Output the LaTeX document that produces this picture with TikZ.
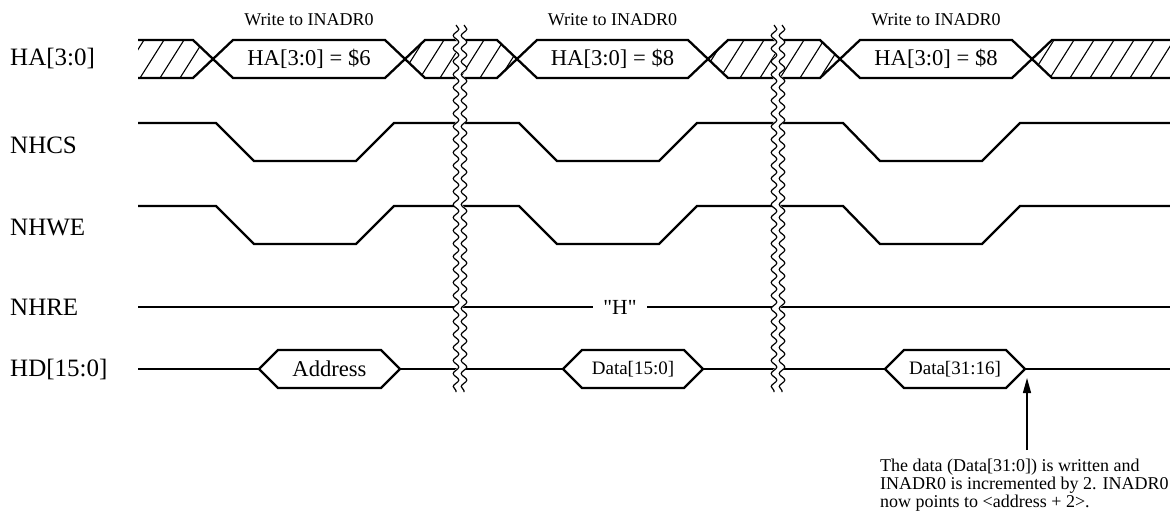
\documentclass[tikz,border=0pt]{standalone}
\usepackage{fontspec}
\setmainfont{Liberation Serif}
\usetikzlibrary{arrows.meta,decorations.pathmorphing}

\tikzset{
  wave/.style={line width=2.3pt, line join=miter},
  hatch/.style={line width=1.1pt},
  brk/.style={decorate, decoration={snake, segment length=13pt, amplitude=2.8pt}},
  siglabel/.style={anchor=west, inner sep=0pt, font=\fontsize{25}{30}\selectfont},
  buslabel/.style={inner sep=0pt, font=\fontsize{22.6}{27}\selectfont},
  datalabel/.style={inner sep=0pt, font=\fontsize{19}{23}\selectfont},
  smalllabel/.style={inner sep=0pt, font=\fontsize{18}{18}\selectfont},
}

\begin{document}
\begin{tikzpicture}[x=1pt, y=-1pt, >=Triangle]
\useasboundingbox (0,0) rectangle (1170,516);

\node[siglabel] (ha)   at (10,59)  {HA[3:0]};
\node[siglabel] (nhcs) at (10,145) {NHCS};
\node[siglabel] (nhwe) at (10,228) {NHWE};
\node[siglabel] (nhre) at (10,307) {NHRE};
\node[siglabel] (hd)   at (10,369) {HD[15:0]};

% HA[3:0] bus
\foreach \a/\b in {405/517, 708/840} {
  \begin{scope}
    \clip (\a,59) -- (\a+20,40) -- (\b-20,40) -- (\b,59) -- (\b-20,78) -- (\a+20,78) -- cycle;
    \foreach \x in {380,400,...,860} \draw[hatch] (\x,78) -- (\x+24,40);
  \end{scope}
  \draw[wave] (\a,59) -- (\a+20,40) -- (\b-20,40) -- (\b,59) -- (\b-20,78) -- (\a+20,78) -- cycle;
}
\begin{scope}
  \clip (138,40) -- (193,40) -- (213,59) -- (193,78) -- (138,78) -- cycle;
  \foreach \x in {100,120,...,220} \draw[hatch] (\x,78) -- (\x+24,40);
\end{scope}
\draw[wave] (138,40) -- (193,40) -- (213,59) -- (193,78) -- (138,78);
\begin{scope}
  \clip (1032,59) -- (1052,40) -- (1170,40) -- (1170,78) -- (1052,78) -- cycle;
  \foreach \x in {1010,1030,...,1180} \draw[hatch] (\x,78) -- (\x+24,40);
\end{scope}
\draw[wave] (1175,40) -- (1052,40) -- (1032,59) -- (1052,78) -- (1175,78);

\foreach \a/\b/\v [count=\i] in {213/405/6, 517/708/8, 840/1032/8} {
  \draw[wave] (\a,59) -- (\a+20,40) -- (\b-20,40) -- (\b,59) -- (\b-20,78) -- (\a+20,78) -- cycle;
  \node[buslabel] (hav\i) at ({(\a+\b)/2},59) {HA[3:0] = \$\v};
  \node[smalllabel] (wr\i) at ({(\a+\b)/2},20) {Write to INADR0};
}

% strobes
\foreach \y in {123,206}
  \draw[wave] (138,\y) -- (216,\y) -- (254,\y+38) -- (356,\y+38) -- (394,\y)
    -- (519,\y) -- (557,\y+38) -- (659,\y+38) -- (697,\y)
    -- (843,\y) -- (880,\y+38) -- (982,\y+38) -- (1020,\y) -- (1175,\y);

\draw[wave] (138,307) -- (1175,307);
\node[fill=white, inner xsep=10pt, inner ysep=0pt, font=\fontsize{21.5}{25}\selectfont] (hlevel) at (620,307) {\textquotedbl H\textquotedbl};

% HD[15:0] bus
\draw[wave] (138,369) -- (1175,369);
\foreach \a/\b/\t/\f [count=\i] in {259/400/Address/buslabel, 563/703/Data[15:0]/datalabel, 885/1025/Data[31:16]/datalabel} {
  \draw[wave, fill=white] (\a,369) -- (\a+19,350) -- (\b-19,350) -- (\b,369) -- (\b-19,388) -- (\a+19,388) -- cycle;
  \node[\f] (hdv\i) at ({(\a+\b)/2},369) {\t};
}

% breaks
\foreach \x in {460,778} {
  \draw[brk, white, line width=7pt] (\x,25) -- (\x,392);
  \draw[brk, line width=1.2pt] (\x-4,25) -- (\x-4,392);
  \draw[brk, line width=1.2pt] (\x+4,25) -- (\x+4,392);
}

\coordinate (tip) at (1027,378);
\coordinate (foot) at (1027,450);
\draw[-{Triangle[length=15pt,width=8pt]}, line width=1.3pt] (foot) -- (tip);
\node[smalllabel, anchor=north west, align=left] (note) at (880,459)
  {The data (Data[31:0]) is written and\\INADR0 is incremented by 2. INADR0\\now points to <address + 2>.};
\end{tikzpicture}
\end{document}
